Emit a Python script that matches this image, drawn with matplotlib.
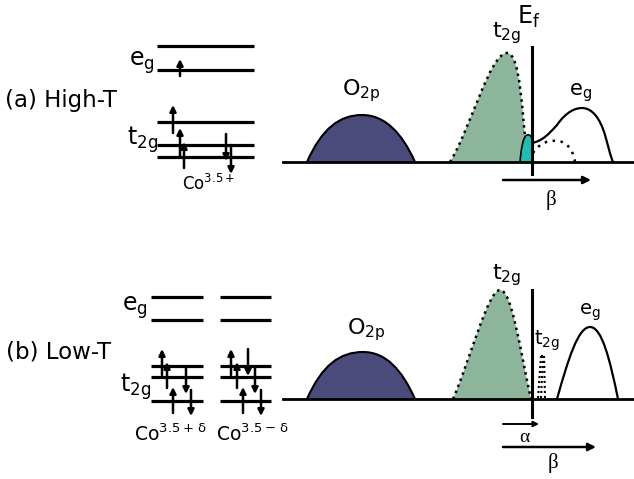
import matplotlib
matplotlib.use("Agg")
import matplotlib.pyplot as plt
from matplotlib.path import Path
from matplotlib.patches import PathPatch

# ---- energy level diagrams (pixel space, y grows downwards) ----
a_eg_y = [46, 70]
a_t2g_y = [122, 145, 157]
a_sites = [(157, 254)]
# spin arrows: (x, tail_y, head_y)
a_spins = [(173, 133, 105), (180, 157, 128), (184, 168, 142),
           (226, 134, 161), (231, 145, 174), (180, 76, 59)]

b_eg_y = [297, 320]
b_t2g_y = [366, 377, 401]
b_sites = [(151, 203), (220, 271)]
b_spins = [(162, 375, 349), (167, 388, 362), (186, 367, 394),
           (173, 413, 387), (191, 390, 416),
           (231, 375, 349), (237, 388, 362), (248, 349, 376),
           (255, 367, 394), (243, 413, 387), (261, 390, 416)]

# ---- density of states sketches, bezier vertices ----
base_a, base_b = 162, 399
o2p_a = [(307, 162), (322, 128), (340, 115), (362, 115),
         (385, 115), (402, 133), (415, 162)]
o2p_b = [(307, 399), (322, 365), (340, 352), (363, 352),
         (386, 352), (402, 370), (415, 399)]
t2g_a = [(450, 162), (470, 130), (490, 53), (507, 53),
         (521, 53), (522, 118), (526, 143)]
teal_a = [(520, 162), (521, 150), (523, 136), (527, 135),
          (530, 134), (532, 137), (532, 140)]
eg_a = [(532, 143), (542, 141), (548, 135), (557, 125),
        (566, 112), (575, 108), (582, 108),
        (592, 108), (600, 118), (605, 135),
        (608, 145), (610, 155), (613, 162)]
eg_a_dot = [(533, 153), (540, 142), (550, 140), (557, 141),
            (565, 141), (573, 148), (575, 162)]
t2g_b = [(453, 399), (470, 360), (488, 290), (500, 290),
         (512, 290), (520, 350), (531, 399)]
t2g_b_small = [[(538, 398), (541, 356)], [(541, 398), (543, 356)],
               [(545, 398), (544, 356)], [(541, 356), (544, 356)]]
eg_b = [(557, 399), (568, 360), (578, 327), (590, 327),
        (602, 327), (610, 360), (618, 399)]

ef_x = 532
c_o2p = '#4b4b7b'
c_t2g = '#8cb59c'
c_teal = '#1ebfb2'


def bez(pts, close=False):
    codes = [Path.MOVETO] + [Path.CURVE4] * (len(pts) - 1)
    verts = list(pts)
    if close:
        verts.append(pts[0])
        codes.append(Path.CLOSEPOLY)
    return Path(verts, codes)


def closed_to(path, extra):
    # close a bezier outline through extra corner points
    v = list(path.vertices) + list(extra) + [path.vertices[0]]
    c = list(path.codes) + [Path.LINETO] * len(extra) + [Path.CLOSEPOLY]
    return Path(v, c)


def arrow(ax, x0, y0, x1, y1, lw=1.6, ms=9):
    ax.annotate('', xy=(x1, y1), xytext=(x0, y0),
                arrowprops=dict(arrowstyle='-|>', lw=lw, color='k',
                                mutation_scale=ms, shrinkA=0, shrinkB=0))


def levels(ax, sites, eg_y, t2g_y, spins):
    for x0, x1 in sites:
        for y in eg_y + t2g_y:
            ax.plot([x0, x1], [y, y], color='k', lw=2.3, solid_capstyle='butt')
    for x, yt, yh in spins:
        arrow(ax, x, yt, x, yh, lw=1.8, ms=9)


fig = plt.figure(figsize=(6.34, 4.79), dpi=100)
ax = fig.add_axes([0, 0, 1, 1])
ax.set_xlim(0, 634)
ax.set_ylim(479, 0)
ax.axis('off')

# panel (a)
ax.text(5, 100, '(a) High-T', fontsize=16.5, va='center', ha='left')
levels(ax, a_sites, a_eg_y, a_t2g_y, a_spins)
ax.text(129, 63, r'$\mathregular{e_g}$', fontsize=17, va='center')
ax.text(127, 140, r'$\mathregular{t_{2g}}$', fontsize=17, va='center')
ax.text(182, 184, r'$\mathregular{Co^{3.5+}}$', fontsize=12, va='center')

ax.plot([283, 634], [base_a, base_a], color='k', lw=2)
ax.add_patch(PathPatch(bez(o2p_a, True), fc=c_o2p, ec='none'))
ax.add_patch(PathPatch(bez(o2p_a), fill=False, ec='k', lw=1.5))
pa = bez(t2g_a)
ax.add_patch(PathPatch(closed_to(pa, [(521, 162)]), fc=c_t2g, ec='none'))
ax.add_patch(PathPatch(pa, fill=False, ec='k', lw=1.8, ls=(0, (1, 1.6))))
pt = bez(teal_a)
ax.add_patch(PathPatch(closed_to(pt, [(532, 162)]), fc=c_teal, ec='none'))
ax.add_patch(PathPatch(pt, fill=False, ec='k', lw=1.2))
ax.add_patch(PathPatch(bez(eg_a), fill=False, ec='k', lw=1.6))
ax.add_patch(PathPatch(bez(eg_a_dot), fill=False, ec='k', lw=1.8, ls=(0, (1, 2.2))))
ax.plot([ef_x, ef_x], [47, 174], color='k', lw=2.2)
ax.text(517, 17, r'$\mathregular{E_f}$', fontsize=17, va='center')
ax.text(492, 33, r'$\mathregular{t_{2g}}$', fontsize=16, va='center')
ax.text(342, 91, r'$\mathregular{O_{2p}}$', fontsize=16, va='center')
ax.text(569, 93, r'$\mathregular{e_g}$', fontsize=15, va='center')
arrow(ax, 503, 180, 591, 180, lw=1.8, ms=11)
ax.text(551, 200, 'β', fontsize=15, ha='center', va='center', family='Liberation Serif')

# panel (b)
ax.text(6, 352, '(b) Low-T', fontsize=16.5, va='center', ha='left')
levels(ax, b_sites, b_eg_y, b_t2g_y, b_spins)
ax.text(122, 308, r'$\mathregular{e_g}$', fontsize=17, va='center')
ax.text(120, 387, r'$\mathregular{t_{2g}}$', fontsize=17, va='center')
ax.text(134, 434, r'$\mathregular{Co^{3.5+\,\delta}}$', fontsize=13.5, va='center')
ax.text(216, 434, r'$\mathregular{Co^{3.5-\,\delta}}$', fontsize=13.5, va='center')

ax.plot([283, 634], [base_b, base_b], color='k', lw=2)
ax.add_patch(PathPatch(bez(o2p_b, True), fc=c_o2p, ec='none'))
ax.add_patch(PathPatch(bez(o2p_b), fill=False, ec='k', lw=1.5))
ax.add_patch(PathPatch(bez(t2g_b, True), fc=c_t2g, ec='none'))
ax.add_patch(PathPatch(bez(t2g_b), fill=False, ec='k', lw=1.8, ls=(0, (1, 1.6))))
for seg in t2g_b_small:
    xs, ys = zip(*seg)
    ax.plot(xs, ys, color='k', lw=1.5, ls=(0, (1, 1.4)))
ax.add_patch(PathPatch(bez(eg_b), fill=False, ec='k', lw=1.6))
ax.plot([ef_x, ef_x], [290, 417], color='k', lw=2.2)
ax.text(492, 275, r'$\mathregular{t_{2g}}$', fontsize=16, va='center')
ax.text(347, 330, r'$\mathregular{O_{2p}}$', fontsize=16, va='center')
ax.text(534, 341, r'$\mathregular{t_{2g}}$', fontsize=14, va='center')
ax.text(579, 312, r'$\mathregular{e_g}$', fontsize=14, va='center')
arrow(ax, 503, 424, 539, 424, lw=1.4, ms=8)
ax.text(524, 437, 'α', fontsize=14, ha='center', va='center', family='Liberation Serif')
arrow(ax, 503, 447, 596, 447, lw=1.8, ms=11)
ax.text(553, 463, 'β', fontsize=15, ha='center', va='center', family='Liberation Serif')

fig.savefig('out.png', dpi=100)
